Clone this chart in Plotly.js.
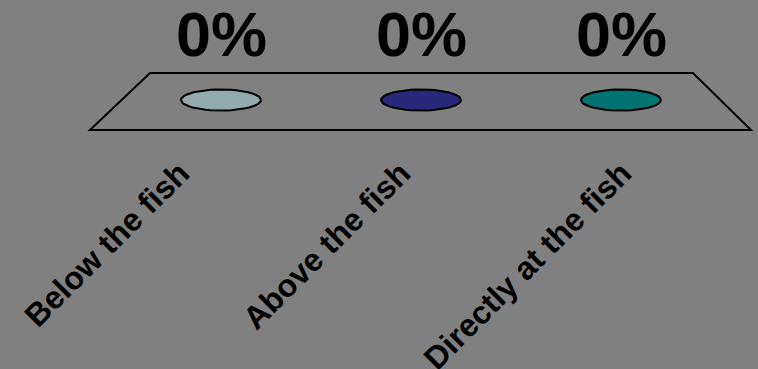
<!DOCTYPE html>
<html>
<head>
<meta charset="utf-8">
<script src="https://cdn.plot.ly/plotly-3.0.1.min.js"></script>
<style>html,body{margin:0;padding:0;background:#808080;}</style>
</head>
<body>
<div id="chart" style="width:758px;height:369px;"></div>
<script>
const categories = ['Below the fish', 'Above the fish', 'Directly at the fish'];
const values = [0, 0, 0];
const colors = ['#93ABAD', '#28287A', '#007373'];

const traces = [];
const N = 48;
categories.forEach(function (c, i) {
  const xs = [], ys = [];
  for (let k = 0; k <= N; k++) {
    const t = 2 * Math.PI * k / N;
    xs.push(i + 0.2 * Math.cos(t));
    ys.push(values[i] + 10.5 * Math.sin(t));
  }
  traces.push({
    type: 'scatter', mode: 'lines', x: xs, y: ys,
    fill: 'toself', fillcolor: colors[i],
    line: {color: '#000000', width: 2},
    hoverinfo: 'skip', showlegend: false
  });
});
// category label axis (labels sit on a slightly wider spacing than the bars)
traces.push({
  type: 'scatter', mode: 'markers', x: categories.map(function (c, i) { return i; }), y: values,
  xaxis: 'x2', yaxis: 'y', marker: {opacity: 0, size: 1}, hoverinfo: 'skip', showlegend: false
});

const annotations = categories.map(function (c, i) {
  return {
    x: i, y: values[i], xref: 'x', yref: 'y',
    text: values[i] + '%', showarrow: false, yshift: 66,
    font: {family: 'Liberation Sans, Arial, sans-serif', size: 63, color: '#000000', weight: 'bold'}
  };
});

const labelFont = {family: 'Liberation Sans, Arial, sans-serif', size: 32, color: '#000000', weight: 'bold'};

const layout = {
  width: 758, height: 369, autosize: false,
  margin: {l: 0, r: 0, t: 0, b: 239, pad: 0},
  paper_bgcolor: '#808080', plot_bgcolor: '#808080',
  showlegend: false,
  xaxis: {
    range: [-1.105, 2.685], showticklabels: false, showgrid: false, zeroline: false,
    showline: false, ticks: '', automargin: false
  },
  xaxis2: {
    overlaying: 'x', anchor: 'y', side: 'bottom',
    range: [-0.8145, 2.6154], tickvals: [0, 1, 2], ticktext: categories,
    tickangle: -45, showgrid: false, zeroline: false, showline: false, ticks: '',
    automargin: false, ticklabelstandoff: 17,
    tickfont: labelFont
  },
  yaxis: {range: [-30, 100], visible: false, showgrid: false, zeroline: false},
  shapes: [{
    type: 'path', xref: 'paper', yref: 'paper', layer: 'below',
    path: 'M 0.1187,0 L 0.9908,0 L 0.9142,0.4385 L 0.1979,0.4385 Z',
    line: {color: '#000000', width: 2}
  }],
  annotations: annotations
};

Plotly.newPlot('chart', traces, layout, {staticPlot: true, displayModeBar: false});
</script>
</body>
</html>
